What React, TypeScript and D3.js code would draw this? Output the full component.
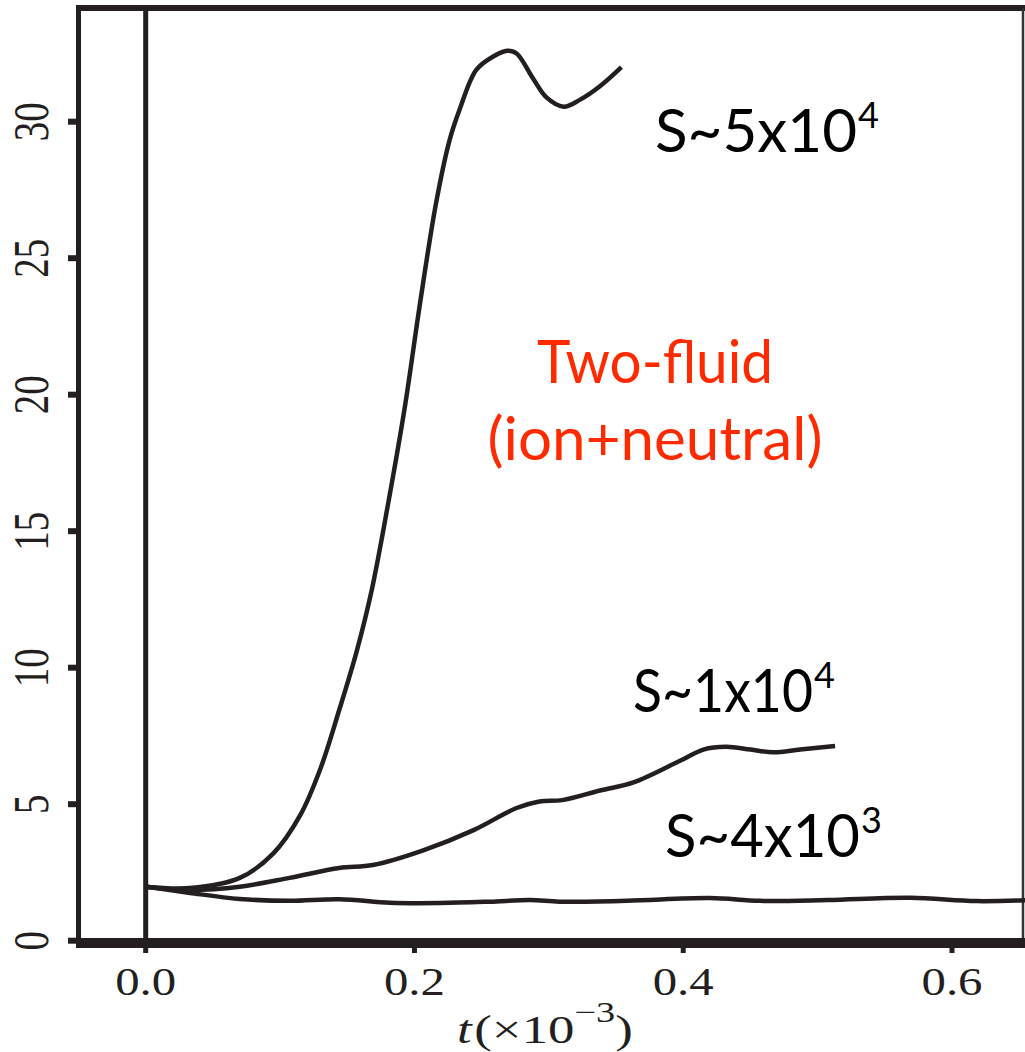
import React from 'react';
import * as d3 from 'd3';

// growth curves (t in units of 1e-3)
const tHigh = [0, 0.033, 0.07, 0.095, 0.115, 0.13, 0.144, 0.157, 0.168, 0.18, 0.193, 0.204, 0.216, 0.226, 0.234, 0.246, 0.259, 0.269, 0.276, 0.288, 0.298, 0.311, 0.323, 0.338, 0.354];
const yHigh = [1.98, 1.93, 2.3, 3.2, 4.6, 6.3, 8.45, 10.6, 12.8, 15.9, 19.6, 23.3, 27.0, 29.3, 30.5, 31.9, 32.4, 32.6, 32.5, 31.6, 30.9, 30.55, 30.8, 31.3, 32.0];

const tMid = [0, 0.033, 0.07, 0.107, 0.144, 0.169, 0.206, 0.244, 0.276, 0.293, 0.31, 0.338, 0.363, 0.398, 0.415, 0.432, 0.45, 0.467, 0.487, 0.513];
const yMid = [1.98, 1.86, 1.98, 2.3, 2.66, 2.77, 3.3, 4.05, 4.86, 5.1, 5.15, 5.5, 5.8, 6.6, 7.0, 7.1, 7.0, 6.9, 7.0, 7.13];

const tLow = [0, 0.033, 0.07, 0.107, 0.144, 0.182, 0.219, 0.256, 0.286, 0.308, 0.358, 0.42, 0.457, 0.507, 0.569, 0.618, 0.66];
const yLow = [1.98, 1.75, 1.53, 1.46, 1.52, 1.39, 1.38, 1.43, 1.49, 1.43, 1.46, 1.56, 1.46, 1.49, 1.57, 1.45, 1.49];

const xTicks = [0, 0.2, 0.4, 0.6];
const yTicks = [0, 5, 10, 15, 20, 25, 30];

// curve labels: base text + exponent
const curveLabels = [
  { base: 'S~5x10', sup: '4', x: 655, y: 152, w: 202 },
  { base: 'S~1x10', sup: '4', x: 633, y: 712, w: 180 },
  { base: 'S~4x10', sup: '3', x: 665, y: 857, w: 195 },
];

const App = () => {
  const width = 1025;
  const height = 1052;
  const ink = '#231f20';

  const xScale = d3.scaleLinear().domain([0, 0.6]).range([145.7, 952]);
  const yScale = d3.scaleLinear().domain([0, 30]).range([940.7, 121.7]);

  const line = d3.line<[number, number]>()
    .x(d => xScale(d[0]))
    .y(d => yScale(d[1]))
    .curve(d3.curveCatmullRom.alpha(0.5));

  const series = [
    d3.zip(tHigh, yHigh),
    d3.zip(tMid, yMid),
    d3.zip(tLow, yLow),
  ] as [number, number][][];

  const left = 78.5;
  const top = 8;
  const bottom = 943;

  return (
    <svg width={width} height={height} style={{ position: 'absolute', left: 0, top: 0, background: 'white' }}>
      <defs>
        <clipPath id='plotClip'>
          <rect x={left} y={top} width={width - left} height={bottom - top} />
        </clipPath>
      </defs>

      {/* frame */}
      <line x1={76} x2={width} y1={top} y2={top} stroke={ink} strokeWidth={6} />
      <line x1={1023} x2={1023} y1={top} y2={bottom} stroke='#333' strokeWidth={2.5} />
      <line x1={xScale(0)} x2={xScale(0)} y1={top} y2={bottom} stroke={ink} strokeWidth={5} />

      {/* curves */}
      <g clipPath='url(#plotClip)'>
        {series.map((s, i) => (
          <path key={i} d={line(s) || ''} fill='none' stroke={ink} strokeWidth={4.5} strokeLinejoin='round' />
        ))}
      </g>

      {/* axes */}
      <line x1={left} x2={left} y1={5} y2={948} stroke={ink} strokeWidth={5} />
      <line x1={76} x2={width} y1={943} y2={943} stroke={ink} strokeWidth={10} />

      {yTicks.map(v => (
        <g key={v}>
          <line x1={68} x2={76} y1={yScale(v)} y2={yScale(v)} stroke={ink} strokeWidth={6} />
          <text
            transform={`translate(48, ${yScale(v)}) scale(1.3, 1) rotate(-90)`}
            textAnchor='middle'
            fontFamily='Liberation Serif, serif'
            fontSize={39}
            fill={ink}
          >{v}</text>
        </g>
      ))}

      {xTicks.map(v => (
        <g key={v}>
          <line x1={xScale(v)} x2={xScale(v)} y1={948} y2={953} stroke={ink} strokeWidth={5} />
          <text
            x={xScale(v)}
            y={995}
            textAnchor='middle'
            fontFamily='Liberation Serif, serif'
            fontSize={40}
            textLength={61}
            lengthAdjust='spacingAndGlyphs'
            fill={ink}
          >{d3.format('.1f')(v)}</text>
        </g>
      ))}

      {/* x axis title */}
      <g transform='translate(457, 1043) scale(1.32, 1)'>
        <text fontFamily='Liberation Serif, serif' fontSize={40} fill={ink}>
          <tspan fontStyle='italic'>t</tspan>
          <tspan dx={2}>(×10</tspan>
          <tspan dy={-21} fontSize={29}>−3</tspan>
          <tspan dy={21}>)</tspan>
        </text>
      </g>

      {/* curve labels */}
      {curveLabels.map(l => (
        <text key={l.base + l.sup} x={l.x} y={l.y} fontFamily='Lato, sans-serif' fill='#000' fontSize={60}>
          <tspan textLength={l.w} lengthAdjust='spacingAndGlyphs'>{l.base}</tspan>
          <tspan dx={1} dy={-24} fontSize={36}>{l.sup}</tspan>
        </text>
      ))}

      {/* annotation */}
      <g fontFamily='Lato, sans-serif' fill='#ff2a00' fontSize={60} textAnchor='middle'>
        <text x={655} y={383} textLength={236} lengthAdjust='spacingAndGlyphs'>Two-fluid</text>
        <text x={655} y={460} textLength={335} lengthAdjust='spacingAndGlyphs'>(ion+neutral)</text>
      </g>
    </svg>
  );
};

export default App;
